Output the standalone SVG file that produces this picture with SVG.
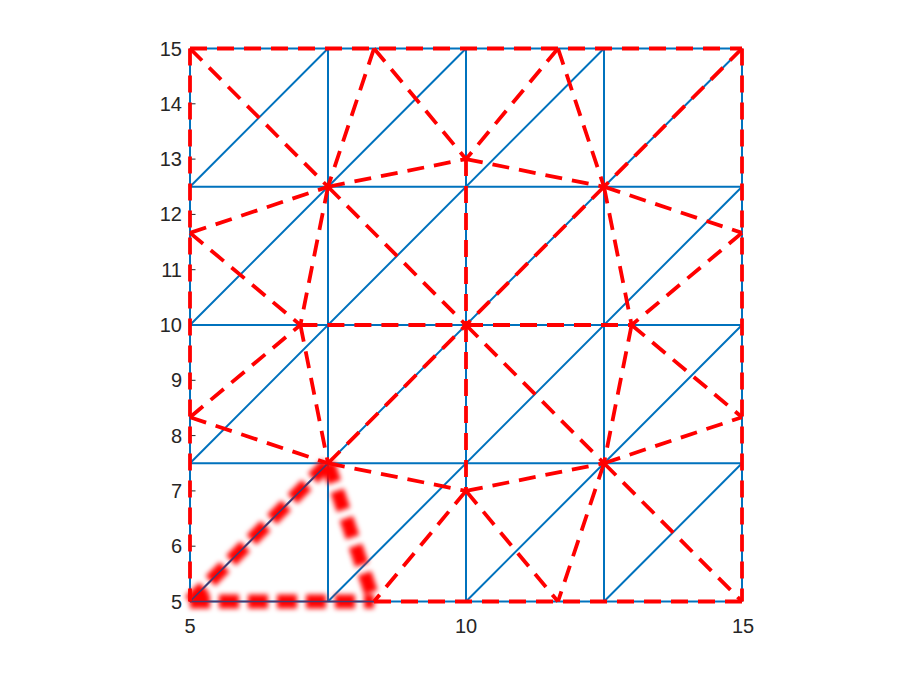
<svg xmlns="http://www.w3.org/2000/svg" width="901" height="675" viewBox="0 0 901 675">
<defs>
<style>
.ax{stroke:#262626;stroke-width:1;fill:none}
.tk{font-family:"Liberation Sans",Arial,sans-serif;font-size:20px;fill:#262626}
.bl{stroke:#0072BD;stroke-width:2;fill:none}
.rd{stroke:#FF0000;stroke-width:3.8;fill:none;stroke-dasharray:17 10}
.gl{stroke:#FF0000;stroke-width:14;fill:none;stroke-dasharray:20 9;stroke-linecap:butt}
.dk{stroke:#4a3a70;stroke-width:1.6;fill:none}
</style>
<filter id="blur" x="-20%" y="-20%" width="140%" height="140%"><feGaussianBlur stdDeviation="2.4"/></filter>
</defs>
<rect width="901" height="675" fill="#ffffff"/>
<g id="axes">
<path class="ax" d="M190,48.5V601.5H742"/>
<path class="ax" d="M190,601.5h5.5M190,546.2h5.5M190,490.9h5.5M190,435.6h5.5M190,380.3h5.5M190,325h5.5M190,269.7h5.5M190,214.4h5.5M190,159.1h5.5M190,103.8h5.5M190,48.5h5.5M190,601.5v-5.5M466,601.5v-5.5M742,601.5v-5.5"/>
<g class="tk" text-anchor="end">
<text x="182" y="608.5">5</text>
<text x="182" y="553.2">6</text>
<text x="182" y="497.9">7</text>
<text x="182" y="442.6">8</text>
<text x="182" y="387.3">9</text>
<text x="182" y="332">10</text>
<text x="182" y="276.7">11</text>
<text x="182" y="221.4">12</text>
<text x="182" y="166.1">13</text>
<text x="182" y="110.8">14</text>
<text x="182" y="55.5">15</text>
</g>
<g class="tk" text-anchor="middle">
<text x="190" y="633">5</text>
<text x="466" y="633">10</text>
<text x="743" y="633">15</text>
</g>
</g>
<g id="mesh">
<path class="bl" d="M190,48.5H742M190,186.75H742M190,325H742M190,463.25H742M190,601.5H742M190,48.5V601.5M328,48.5V601.5M466,48.5V601.5M604,48.5V601.5M742,48.5V601.5"/>
<path class="bl" d="M190,186.75L328,48.5M190,325L466,48.5M190,463.25L604,48.5M190,601.5L742,48.5M328,601.5L742,186.75M466,601.5L742,325M604,601.5L742,463.25"/>
</g>
<g id="highlight">
<g filter="url(#blur)">
<line class="gl" x1="190" y1="601.5" x2="328" y2="463.25"/>
<line class="gl" x1="328" y1="463.25" x2="374" y2="601.5"/>
<line class="gl" x1="190" y1="601.5" x2="374" y2="601.5"/>
</g>
<path class="dk" d="M190,601.5L328,463.25M190,601.5H374"/>
</g>
<g id="connectors">
<line class="rd" x1="190" y1="48.5" x2="742" y2="48.5"/>
<line class="rd" x1="742" y1="48.5" x2="742" y2="601.5"/>
<line class="rd" x1="374" y1="601.5" x2="742" y2="601.5"/>
<line class="rd" x1="190" y1="48.5" x2="190" y2="601.5"/>
<line class="rd" x1="190" y1="48.5" x2="328" y2="186.75"/>
<line class="rd" x1="374" y1="48.5" x2="328" y2="186.75"/>
<line class="rd" x1="374" y1="48.5" x2="466" y2="159.1"/>
<line class="rd" x1="558" y1="48.5" x2="466" y2="159.1"/>
<line class="rd" x1="558" y1="48.5" x2="604" y2="186.75"/>
<line class="rd" x1="742" y1="48.5" x2="604" y2="186.75"/>
<line class="rd" x1="328" y1="186.75" x2="466" y2="159.1"/>
<line class="rd" x1="466" y1="159.1" x2="604" y2="186.75"/>
<line class="rd" x1="466" y1="159.1" x2="466" y2="325"/>
<line class="rd" x1="190" y1="232.9" x2="328" y2="186.75"/>
<line class="rd" x1="190" y1="232.9" x2="300.4" y2="325"/>
<line class="rd" x1="328" y1="186.75" x2="300.4" y2="325"/>
<line class="rd" x1="328" y1="186.75" x2="466" y2="325"/>
<line class="rd" x1="604" y1="186.75" x2="466" y2="325"/>
<line class="rd" x1="604" y1="186.75" x2="742" y2="232.9"/>
<line class="rd" x1="604" y1="186.75" x2="631.6" y2="325"/>
<line class="rd" x1="742" y1="232.9" x2="631.6" y2="325"/>
<line class="rd" x1="300.4" y1="325" x2="466" y2="325"/>
<line class="rd" x1="466" y1="325" x2="631.6" y2="325"/>
<line class="rd" x1="190" y1="417.2" x2="300.4" y2="325"/>
<line class="rd" x1="190" y1="417.2" x2="328" y2="463.25"/>
<line class="rd" x1="300.4" y1="325" x2="328" y2="463.25"/>
<line class="rd" x1="328" y1="463.25" x2="466" y2="325"/>
<line class="rd" x1="466" y1="325" x2="604" y2="463.25"/>
<line class="rd" x1="631.6" y1="325" x2="604" y2="463.25"/>
<line class="rd" x1="631.6" y1="325" x2="742" y2="417.2"/>
<line class="rd" x1="604" y1="463.25" x2="742" y2="417.2"/>
<line class="rd" x1="328" y1="463.25" x2="466" y2="490.9"/>
<line class="rd" x1="466" y1="490.9" x2="604" y2="463.25"/>
<line class="rd" x1="466" y1="325" x2="466" y2="490.9"/>
<line class="rd" x1="466" y1="490.9" x2="374" y2="601.5"/>
<line class="rd" x1="466" y1="490.9" x2="558" y2="601.5"/>
<line class="rd" x1="604" y1="463.25" x2="558" y2="601.5"/>
<line class="rd" x1="604" y1="463.25" x2="742" y2="601.5"/>
</g>
</svg>
